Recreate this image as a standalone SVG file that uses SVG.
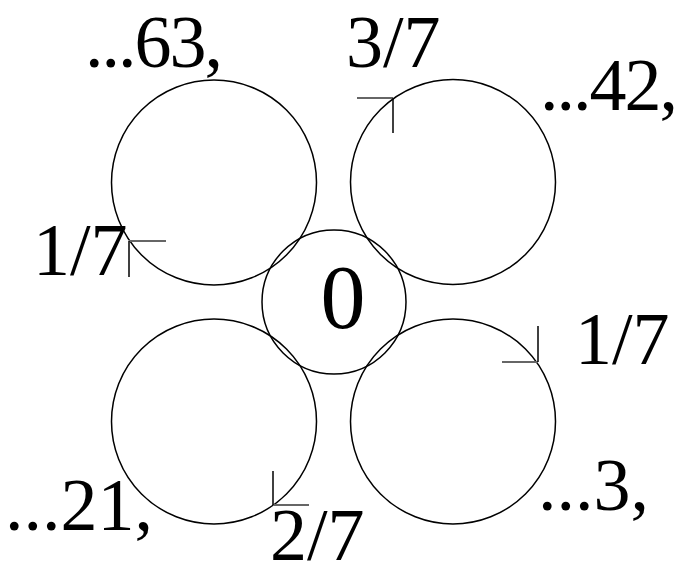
<svg xmlns="http://www.w3.org/2000/svg" width="683" height="569" viewBox="0 0 683 569">
<style>
.c{fill:none;stroke:#000;stroke-width:1.5}
.h{stroke:#666;stroke-width:2.2}
.v{stroke:#000;stroke-width:1.5}
.t{font-family:"Liberation Serif","Times New Roman",serif;font-size:74px;fill:#000}
.e{letter-spacing:-2px}
</style>
<rect width="683" height="569" fill="#fff"/>
<g id="center"><circle class="c" cx="334" cy="302" r="72"/><text class="t" x="343" y="328" text-anchor="middle" style="font-size:90px">0</text></g>
<g id="tl"><circle class="c" cx="214" cy="182.5" r="102.5"/><text class="t e" x="85" y="67">...63,</text></g>
<g id="tr"><circle class="c" cx="453" cy="182" r="102.5"/><text class="t e" x="540" y="110">...42,</text></g>
<g id="bl"><circle class="c" cx="214" cy="421.5" r="102.5"/><text class="t" x="5" y="530">...21,</text></g>
<g id="br"><circle class="c" cx="453" cy="421.5" r="102.5"/><text class="t" x="538" y="510">...3,</text></g>
<g id="connectors">
<line class="h" x1="357" y1="98" x2="393" y2="98"/><line class="v" x1="393" y1="98" x2="393" y2="133"/>
<line class="h" x1="129" y1="241" x2="166" y2="241"/><line class="v" x1="129" y1="241" x2="129" y2="277"/>
<line class="h" x1="502" y1="362" x2="538" y2="362"/><line class="v" x1="538" y1="326" x2="538" y2="362"/>
<line class="h" x1="273" y1="505" x2="309" y2="505"/><line class="v" x1="273" y1="471" x2="273" y2="505"/>
<text class="t" x="346" y="67">3/7</text>
<text class="t" x="33" y="275">1/7</text>
<text class="t" x="575" y="364">1/7</text>
<text class="t" x="270" y="560">2/7</text>
</g>
</svg>
